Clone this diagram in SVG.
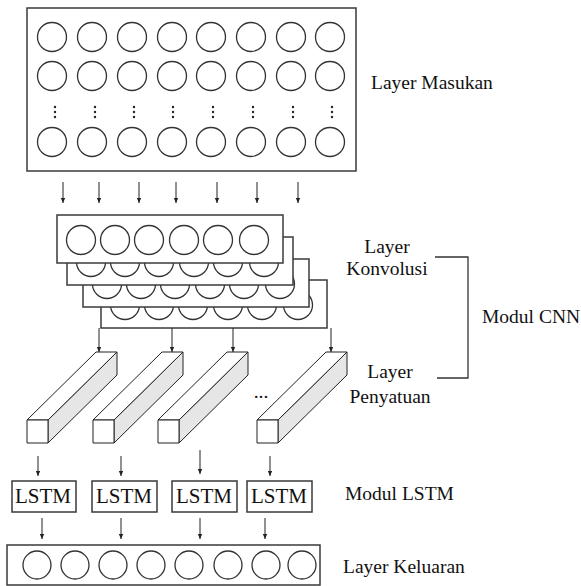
<svg xmlns="http://www.w3.org/2000/svg" width="581" height="586" viewBox="0 0 581 586">
<style>
.box{fill:#fff;stroke:#3a3a3a;stroke-width:1.5}
.c{fill:#fff;stroke:#333;stroke-width:1.3}
.ln{fill:none;stroke:#222;stroke-width:1}
text{font-family:'Liberation Serif','Times New Roman',serif;fill:#111}
.t{font-size:19.5px}
.lt{font-size:21px}
.face{stroke:#222;stroke-width:1;stroke-linejoin:round}
.dot{fill:#222}
</style>
<defs>
<marker id="ah" markerUnits="userSpaceOnUse" markerWidth="6" markerHeight="6" refX="5" refY="3" orient="auto">
<path d="M0,0.8 L5,3 L0,5.2 Z" fill="#222"/>
</marker>
<g id="row8">
<circle class="c" cx="52" cy="0" r="14.5"/><circle class="c" cx="92" cy="0" r="14.5"/><circle class="c" cx="132" cy="0" r="14.5"/><circle class="c" cx="172" cy="0" r="14.5"/><circle class="c" cx="211" cy="0" r="14.5"/><circle class="c" cx="251" cy="0" r="14.5"/><circle class="c" cx="291" cy="0" r="14.5"/><circle class="c" cx="330" cy="0" r="14.5"/>
</g>
<g id="conv">
<rect class="box" x="0" y="0" width="226" height="48"/>
<circle class="c" cx="24" cy="25" r="14.5"/><circle class="c" cx="58" cy="25" r="14.5"/><circle class="c" cx="92" cy="25" r="14.5"/><circle class="c" cx="127" cy="25" r="14.5"/><circle class="c" cx="161" cy="25" r="14.5"/><circle class="c" cx="197" cy="25" r="14.5"/>
</g>
<g id="bar">
<polygon class="face" fill="#e6e6e6" points="21,0 90,-68 90,-45 21,23"/>
<polygon class="face" fill="#fff" points="0,0 69,-68 90,-68 21,0"/>
<rect class="face" fill="#fff" x="0" y="0" width="21" height="23"/>
</g>
<g id="vdots">
<circle class="dot" cx="0" cy="107" r="1.2"/><circle class="dot" cx="0" cy="112" r="1.2"/><circle class="dot" cx="0" cy="117" r="1.2"/>
</g>
</defs>

<g id="input-layer">
<rect class="box" x="27" y="8" width="329" height="163"/>
<use href="#row8" y="37"/>
<use href="#row8" y="76"/>
<use href="#row8" y="142"/>
<use href="#vdots" x="55"/><use href="#vdots" x="95"/><use href="#vdots" x="134"/><use href="#vdots" x="173"/><use href="#vdots" x="213"/><use href="#vdots" x="253"/><use href="#vdots" x="293"/><use href="#vdots" x="332"/>
<text class="t" x="371" y="89">Layer Masukan</text>
</g>

<g id="conv-layer">
<use href="#conv" x="101" y="280"/>
<use href="#conv" x="83" y="259"/>
<use href="#conv" x="67" y="237"/>
<use href="#conv" x="57" y="215"/>
<text class="t" x="387" y="253" text-anchor="middle">Layer</text>
<text class="t" x="387" y="275" text-anchor="middle">Konvolusi</text>
</g>

<g id="pool-layer">
<use href="#bar" x="27" y="420"/>
<use href="#bar" x="93" y="420"/>
<use href="#bar" x="158" y="420"/>
<use href="#bar" x="257" y="420"/>
<text class="t" x="261" y="398" text-anchor="middle">...</text>
<text class="t" x="390" y="378" text-anchor="middle">Layer</text>
<text class="t" x="390" y="403" text-anchor="middle">Penyatuan</text>
</g>

<g id="cnn-module">
<polyline points="435,257 468,257 468,378 437,378" fill="none" stroke="#333" stroke-width="1.3"/>
<text class="t" x="482" y="323">Modul CNN</text>
</g>

<g id="lstm-module">
<rect class="box" x="12" y="481" width="64" height="31"/>
<rect class="box" x="92" y="481" width="65" height="31"/>
<rect class="box" x="172" y="481" width="65" height="31"/>
<rect class="box" x="247" y="481" width="65" height="31"/>
<text class="lt" x="43" y="503" text-anchor="middle">LSTM</text>
<text class="lt" x="124" y="503" text-anchor="middle">LSTM</text>
<text class="lt" x="204" y="503" text-anchor="middle">LSTM</text>
<text class="lt" x="279" y="503" text-anchor="middle">LSTM</text>
<text class="t" x="345" y="500">Modul LSTM</text>
</g>

<g id="output-layer">
<rect class="box" x="7" y="545" width="313" height="40"/>
<circle class="c" cx="37" cy="565" r="14"/><circle class="c" cx="75" cy="565" r="14"/><circle class="c" cx="113" cy="565" r="14"/><circle class="c" cx="151" cy="565" r="14"/><circle class="c" cx="189" cy="565" r="14"/><circle class="c" cx="228" cy="565" r="14"/><circle class="c" cx="266" cy="565" r="14"/><circle class="c" cx="302" cy="565" r="14"/>
<text class="t" x="343" y="573">Layer Keluaran</text>
</g>

<g id="connectors" class="ln" marker-end="url(#ah)">
<line x1="63" y1="182" x2="63" y2="203"/>
<line x1="99" y1="182" x2="99" y2="203"/>
<line x1="139" y1="182" x2="139" y2="203"/>
<line x1="176" y1="182" x2="176" y2="203"/>
<line x1="217" y1="182" x2="217" y2="203"/>
<line x1="257" y1="182" x2="257" y2="203"/>
<line x1="298" y1="182" x2="298" y2="203"/>
<line x1="99" y1="328" x2="99" y2="352"/>
<line x1="172" y1="328" x2="172" y2="352"/>
<line x1="233" y1="328" x2="233" y2="352"/>
<line x1="331" y1="328" x2="331" y2="352"/>
<line x1="38" y1="456" x2="38" y2="476"/>
<line x1="121" y1="456" x2="121" y2="476"/>
<line x1="200" y1="450" x2="200" y2="474"/>
<line x1="270" y1="456" x2="270" y2="476"/>
<line x1="42" y1="518" x2="42" y2="539"/>
<line x1="121" y1="518" x2="121" y2="539"/>
<line x1="200" y1="518" x2="200" y2="539"/>
<line x1="265" y1="518" x2="265" y2="539"/>
</g>
</svg>
